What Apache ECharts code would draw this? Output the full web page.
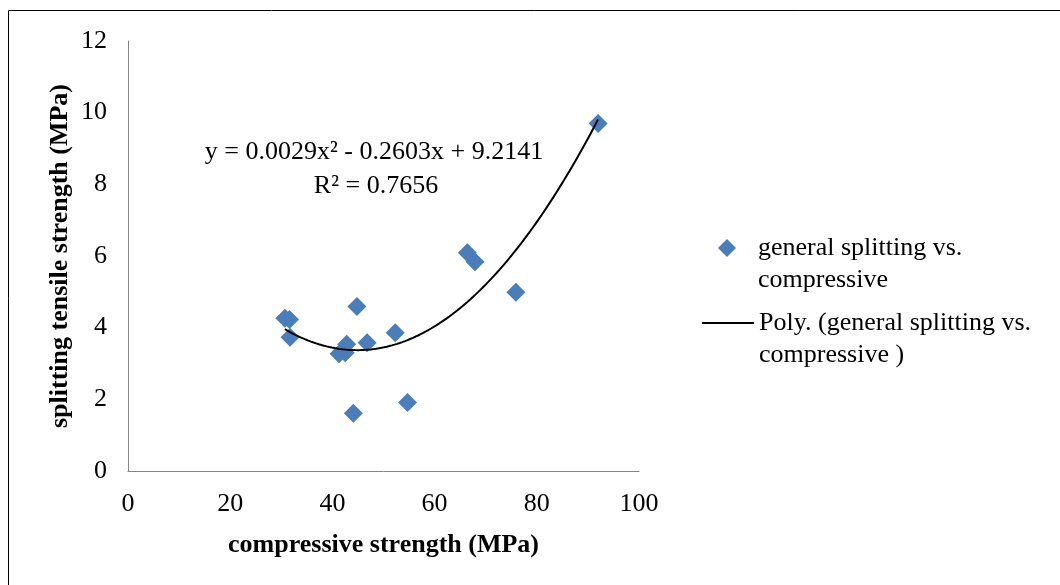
<!DOCTYPE html>
<html>
<head>
<meta charset="utf-8">
<script src="https://cdn.jsdelivr.net/npm/echarts@6/dist/echarts.min.js"></script>
<style>
html,body{margin:0;padding:0;background:#fff;}
#chart{width:1060px;height:585px;}
</style>
</head>
<body>
<div id="chart"></div>
<script>
// Data
const compressive = [30.7, 31.6, 31.7, 44.8, 42.8, 41.3, 42.5, 46.8, 52.3, 44.1, 54.7, 66.4, 67.9, 75.9, 92.0];
const splitting   = [4.26, 4.23, 3.73, 4.59, 3.54, 3.27, 3.30, 3.58, 3.86, 1.61, 1.91, 6.09, 5.84, 4.99, 9.70];
// Trendline coefficients shown on the chart: y = c0 + c1*x + c2*x^2
const trendCoef = [9.2141, -0.2603, 0.0029];
const trendLabel = ['y = 0.0029x\u00B2 - 0.2603x + 9.2141', 'R\u00B2 = 0.7656'];
const xTicks = [0, 20, 40, 60, 80, 100];
const yTicks = [0, 2, 4, 6, 8, 10, 12];
const seriesNames = ['general splitting vs. compressive', 'Poly. (general splitting vs. compressive )'];
const legendLines = [['general splitting vs.', 'compressive'], ['Poly. (general splitting vs.', 'compressive )']];

const scatterData = compressive.map((x, i) => [x, splitting[i]]);
const xmin = Math.min(...compressive), xmax = Math.max(...compressive);
const trendData = [];
const steps = 120;
for (let i = 0; i <= steps; i++) {
  const x = xmin + (xmax - xmin) * i / steps;
  trendData.push([x, trendCoef[0] + trendCoef[1] * x + trendCoef[2] * x * x]);
}

const FONT = 'Liberation Serif';
const chart = echarts.init(document.getElementById('chart'), null, {renderer: 'canvas'});

function legendFor(idx, left, top, itemWidth, itemHeight, textPadLeft) {
  return {
    show: true,
    data: [seriesNames[idx]],
    left: left,
    top: top,
    padding: 0,
    itemWidth: itemWidth,
    itemHeight: itemHeight,
    itemGap: 0,
    orient: 'vertical',
    selectedMode: false,
    formatter: () => ' \n' + legendLines[idx].join('\n'),
    textStyle: {
      fontFamily: FONT, fontSize: 26, color: '#000', lineHeight: 32,
      padding: [0, 0, 0, textPadLeft]
    }
  };
}

chart.setOption({
  animation: false,
  backgroundColor: '#fff',
  grid: {left: 128, right: 421, top: 41, bottom: 114, containLabel: false},
  xAxis: {
    type: 'value', min: 0, max: 100, interval: 20,
    name: 'compressive strength (MPa)', nameLocation: 'middle', nameGap: 61,
    nameTextStyle: {fontFamily: FONT, fontSize: 26, fontWeight: 'bold', color: '#000'},
    axisLine: {show: true, lineStyle: {color: '#868686', width: 1}},
    axisTick: {show: false},
    splitLine: {show: false},
    axisLabel: {fontFamily: FONT, fontSize: 26, color: '#000', margin: 20,
      formatter: v => xTicks.includes(v) ? String(v) : ''}
  },
  yAxis: {
    type: 'value', min: 0, max: 12, interval: 2,
    name: 'splitting tensile strength (MPa)', nameLocation: 'middle', nameGap: 55,
    nameTextStyle: {fontFamily: FONT, fontSize: 26, fontWeight: 'bold', color: '#000'},
    axisLine: {show: true, lineStyle: {color: '#868686', width: 1}},
    axisTick: {show: false},
    splitLine: {show: false},
    axisLabel: {fontFamily: FONT, fontSize: 26, color: '#000', margin: 21,
      formatter: v => yTicks.includes(v) ? String(v) : ''}
  },
  legend: [legendFor(0, 718, 200, 18, 18, 17), legendFor(1, 701, 275, 52, 2, 0)],
  series: [
    {
      name: seriesNames[0], type: 'scatter', data: scatterData,
      symbol: 'diamond', symbolSize: 19,
      itemStyle: {color: '#4A7EBB', opacity: 1}, z: 3
    },
    {
      name: seriesNames[1], type: 'line', data: trendData,
      symbol: 'none', showSymbol: false,
      lineStyle: {color: '#000', width: 2},
      itemStyle: {color: '#000'}, z: 4
    }
  ],
  graphic: [
    {type: 'rect', shape: {x: 8.5, y: 10.5, width: 1200, height: 800},
     style: {fill: null, stroke: '#000', lineWidth: 1}, silent: true, z: -1},
    {type: 'text', x: 374, y: 152,
     style: {text: trendLabel[0], fontFamily: FONT, fontSize: 26, fill: '#000', textAlign: 'center', textVerticalAlign: 'middle'}},
    {type: 'text', x: 376, y: 186,
     style: {text: trendLabel[1], fontFamily: FONT, fontSize: 26, fill: '#000', textAlign: 'center', textVerticalAlign: 'middle'}}
  ]
});
</script>
</body>
</html>
